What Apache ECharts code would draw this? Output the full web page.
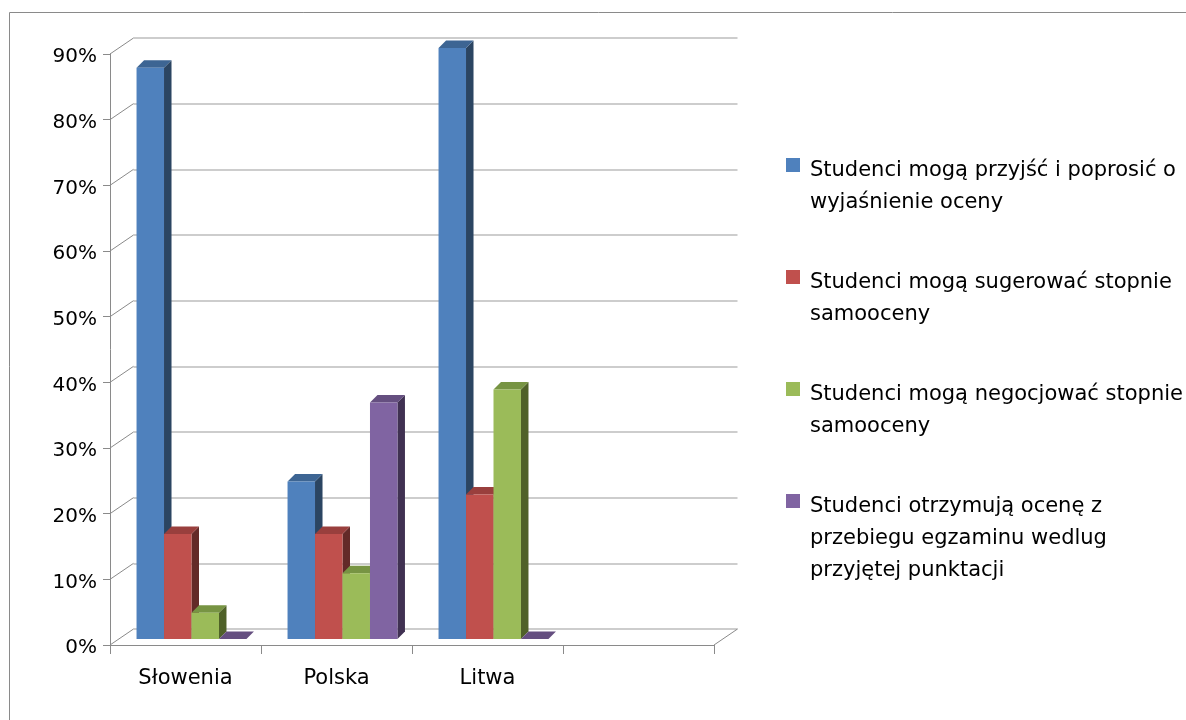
<!DOCTYPE html>
<html>
<head>
<meta charset="utf-8">
<style>
  html, body { margin: 0; padding: 0; background: #ffffff; }
  #chart { width: 1186px; height: 720px; }
</style>
<script src="https://cdn.jsdelivr.net/npm/echarts@6/dist/echarts.min.js"></script>
</head>
<body>
<div id="chart"></div>
<script>
// Categories (the fourth slot is an empty category on the floor)
const categories = ['Słowenia', 'Polska', 'Litwa', ''];

// Series names (full legend texts) and their wrapped display lines
const seriesNames = [
  'Studenci mogą przyjść i poprosić o wyjaśnienie oceny',
  'Studenci mogą sugerować stopnie samooceny',
  'Studenci mogą negocjować stopnie samooceny',
  'Studenci otrzymują ocenę z przebiegu egzaminu wedlug przyjętej punktacji'
];
const legendLines = [
  'Studenci mogą przyjść i poprosić o\nwyjaśnienie oceny',
  'Studenci mogą sugerować stopnie\nsamooceny',
  'Studenci mogą negocjować stopnie\nsamooceny',
  'Studenci otrzymują ocenę z\nprzebiegu egzaminu wedlug\nprzyjętej punktacji'
];

// Values in percent, per category
const przyjscIPoprosic = [87, 24, 90];
const sugerowacStopnie = [16, 16, 22];
const negocjowacStopnie = [4, 10, 38];
const ocenaZPunktacji = [0, 36, 0];

// Value axis ticks (percent)
const yTicks = [0, 10, 20, 30, 40, 50, 60, 70, 80, 90];

const seriesValues = [przyjscIPoprosic, sugerowacStopnie, negocjowacStopnie, ocenaZPunktacji];

// Face colours: front, side, top
const palette = [
  { front: '#4F81BD', side: '#2B4562', top: '#3D6593' },
  { front: '#C0504D', side: '#632A28', top: '#993F3D' },
  { front: '#9BBB59', side: '#4F6128', top: '#779443' },
  { front: '#8064A2', side: '#403152', top: '#654F80' }
];

const FONT = 'DejaVu Sans';
const AXIS_COLOR = '#8A8A8A';
const GRID_COLOR = '#BDBDBD';

// Depth of the chart walls (front axis -> back wall)
const WALL_DX = 23.5, WALL_DY = -16;
// Bars sit part-way into the floor and have their own depth
const BAR_SHIFT_X = 6, BAR_SHIFT_Y = -6;
const BAR_DX = 7.5, BAR_DY = -7.5;
const BAR_RATIO = 0.182;

function barRenderer(sIdx) {
  return function (params, api) {
    const ci = api.value(0);
    const v = api.value(1);
    const base = api.coord([ci, 0]);
    const topPt = api.coord([ci, v]);
    const catW = api.size([1, 0])[0];
    const w = catW * BAR_RATIO;
    const n = seriesValues.length;
    const x0 = base[0] - (n * w) / 2 + sIdx * w + BAR_SHIFT_X;
    const x1 = x0 + w;
    const yb = base[1] + BAR_SHIFT_Y;
    const yt = topPt[1] + BAR_SHIFT_Y;
    const c = palette[sIdx];
    return {
      type: 'group',
      children: [
        {
          type: 'polygon',
          shape: { points: [[x1, yb], [x1 + BAR_DX, yb + BAR_DY], [x1 + BAR_DX, yt + BAR_DY], [x1, yt]] },
          style: { fill: c.side }
        },
        {
          type: 'polygon',
          shape: { points: [[x0, yt], [x1, yt], [x1 + BAR_DX, yt + BAR_DY], [x0 + BAR_DX, yt + BAR_DY]] },
          style: { fill: c.top }
        },
        {
          type: 'rect',
          shape: { x: x0, y: yt, width: w, height: yb - yt },
          style: { fill: c.front }
        }
      ]
    };
  };
}

// Diagonal lines joining the front value axis to the back wall
function connectorRenderer(params, api) {
  const v = api.value(0);
  const cs = params.coordSys;
  const y = api.coord([0, v])[1];
  const lines = [{
    type: 'line',
    shape: { x1: cs.x, y1: y, x2: cs.x + WALL_DX, y2: y + WALL_DY },
    style: { stroke: AXIS_COLOR, lineWidth: 1 }
  }];
  if (v === 0) {
    lines.push({
      type: 'line',
      shape: { x1: cs.x + cs.width, y1: y, x2: cs.x + cs.width + WALL_DX, y2: y + WALL_DY },
      style: { stroke: AXIS_COLOR, lineWidth: 1 }
    });
  }
  return { type: 'group', children: lines };
}

const chart = echarts.init(document.getElementById('chart'));

const barSeries = seriesValues.map((vals, sIdx) => ({
  type: 'custom',
  name: seriesNames[sIdx],
  xAxisIndex: 0,
  yAxisIndex: 0,
  renderItem: barRenderer(sIdx),
  data: vals.map((v, i) => [i, v]),
  encode: { x: 0, y: 1 },
  z: 3
}));

// Legend drawn as graphic rows (square + wrapped label)
const legendGraphics = [];
const LEG_X = 786, LEG_Y0 = 158, LEG_STEP = 112;
legendLines.forEach((txt, i) => {
  legendGraphics.push({
    type: 'rect',
    shape: { x: LEG_X, y: LEG_Y0 + i * LEG_STEP, width: 14, height: 14 },
    style: { fill: palette[i].front }
  });
  legendGraphics.push({
    type: 'text',
    x: 810, y: LEG_Y0 - 3 + i * LEG_STEP,
    style: {
      text: txt,
      font: '21px "' + FONT + '"',
      fill: '#000000',
      lineHeight: 32
    }
  });
});

chart.setOption({
  animation: false,
  backgroundColor: '#ffffff',
  textStyle: { fontFamily: FONT },
  grid: [
    { left: 110, top: 54, width: 604, height: 591, containLabel: false },
    { left: 110 + WALL_DX, top: 54 + WALL_DY, width: 604, height: 591, containLabel: false }
  ],
  xAxis: [
    {
      type: 'category',
      gridIndex: 0,
      data: categories,
      boundaryGap: true,
      axisLine: { show: true, lineStyle: { color: AXIS_COLOR, width: 1 } },
      axisTick: { show: true, length: 9, lineStyle: { color: AXIS_COLOR } },
      axisLabel: { color: '#000000', fontSize: 21, fontFamily: FONT, margin: 23, interval: 0 },
      splitLine: { show: false }
    },
    {
      type: 'category',
      gridIndex: 1,
      data: categories,
      show: false
    }
  ],
  yAxis: [
    {
      type: 'value',
      gridIndex: 0,
      min: 0, max: 90, interval: 10,
      axisLine: { show: true, lineStyle: { color: AXIS_COLOR, width: 1 } },
      axisTick: { show: true, length: 7, lineStyle: { color: AXIS_COLOR } },
      axisLabel: {
        margin: 13,
        formatter: '{p|{value}%}',
        rich: { p: { color: '#000000', fontSize: 20, fontFamily: FONT, padding: [6, 0, 0, 0] } }
      },
      splitLine: { show: false }
    },
    {
      type: 'value',
      gridIndex: 1,
      min: 0, max: 90, interval: 10,
      axisLine: { show: false },
      axisTick: { show: false },
      axisLabel: { show: false },
      splitLine: { show: true, lineStyle: { color: GRID_COLOR, width: 1.5 } }
    }
  ],
  series: [
    {
      type: 'custom',
      name: 'wall-connectors',
      xAxisIndex: 0,
      yAxisIndex: 0,
      renderItem: connectorRenderer,
      data: yTicks.map(t => [t]),
      encode: { y: 0 },
      silent: true,
      z: 1
    }
  ].concat(barSeries),
  graphic: [
    {
      type: 'rect',
      shape: { x: 9.5, y: 12.5, width: 1200, height: 760 },
      style: { fill: 'none', stroke: AXIS_COLOR, lineWidth: 1 },
      silent: true,
      z: -10
    }
  ].concat(legendGraphics)
});
</script>
</body>
</html>
